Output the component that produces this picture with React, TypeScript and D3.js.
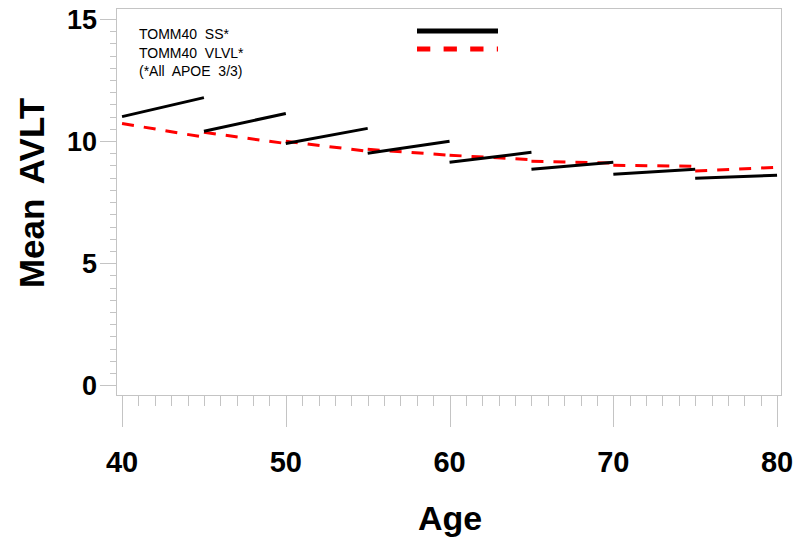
import { useEffect, useRef } from 'react';
import * as d3 from 'd3';

// each curve is drawn as 5-year pieces (start age -> end age)
const segStart = [40, 45, 50, 55, 60, 65, 70, 75];
const segEnd = [45, 50, 55, 60, 65, 70, 75, 80];
const ssStart = [11.0, 10.4, 9.9, 9.5, 9.13, 8.85, 8.64, 8.48];
const ssEnd = [11.78, 11.13, 10.52, 9.99, 9.54, 9.13, 8.85, 8.6];
const vlvlStart = [10.72, 10.36, 9.99, 9.66, 9.42, 9.17, 9.01, 8.77];
const vlvlEnd = [10.16, 9.9, 9.58, 9.42, 9.24, 9.1, 8.97, 8.93];

const xTicks = [40, 50, 60, 70, 80];
const yTicks = [0, 5, 10, 15];
const legendLabels = ['TOMM40  SS*', 'TOMM40  VLVL*', '(*All  APOE  3/3)'];

export default function App() {
  const ref = useRef<SVGSVGElement>(null);

  useEffect(() => {
    const svg = d3.select(ref.current);
    svg.selectAll('*').remove();

    const left = 116, right = 781, top = 8, bottom = 395;
    const x = d3.scaleLinear().domain([39.63, 80.24]).range([left, right]);
    const y = d3.scaleLinear().domain([-0.4, 15.45]).range([bottom, top]);
    const grey = '#c4c4c4';
    const font = '"Liberation Sans", Arial, Helvetica, sans-serif';

    // frame
    svg.append('rect')
      .attr('x', left + 0.5).attr('y', top + 0.5)
      .attr('width', right - left).attr('height', bottom - top)
      .attr('fill', 'none').attr('stroke', grey);

    // y ticks: minor every 0.5, major every 5
    const yMinor = d3.range(0, 15.01, 0.5);
    svg.append('g').selectAll('line').data(yMinor).join('line')
      .attr('x1', d => (d % 5 === 0 ? left - 16 : left - 6))
      .attr('x2', left)
      .attr('y1', d => Math.round(y(d)) + 0.5)
      .attr('y2', d => Math.round(y(d)) + 0.5)
      .attr('stroke', grey);

    svg.append('g').selectAll('text').data(yTicks).join('text')
      .attr('x', 97).attr('y', d => y(d))
      .attr('dy', '0.36em')
      .attr('text-anchor', 'end')
      .attr('font-family', font).attr('font-weight', 'bold')
      .attr('font-size', 27)
      .text(d => d);

    // x ticks: minor every year, major every 10
    const xMinor = d3.range(40, 80.01, 1);
    svg.append('g').selectAll('line').data(xMinor).join('line')
      .attr('x1', d => Math.round(x(d)) + 0.5)
      .attr('x2', d => Math.round(x(d)) + 0.5)
      .attr('y1', bottom)
      .attr('y2', d => (d % 10 === 0 ? bottom + 32 : bottom + 11))
      .attr('stroke', grey);

    svg.append('g').selectAll('text').data(xTicks).join('text')
      .attr('x', d => x(d)).attr('y', 472)
      .attr('text-anchor', 'middle')
      .attr('font-family', font).attr('font-weight', 'bold')
      .attr('font-size', 29)
      .text(d => d);

    // axis titles
    svg.append('text')
      .attr('x', 450).attr('y', 530)
      .attr('text-anchor', 'middle')
      .attr('font-family', font).attr('font-weight', 'bold')
      .attr('font-size', 34)
      .text('Age');

    svg.append('text')
      .attr('transform', 'translate(44,193) rotate(-90)')
      .attr('text-anchor', 'middle')
      .attr('font-family', font).attr('font-weight', 'bold')
      .attr('font-size', 35)
      .attr('word-spacing', 6)
      .text('Mean AVLT');

    // curves
    const pieces = segStart.map((a, i) => ({
      a, b: segEnd[i],
      ss: [ssStart[i], ssEnd[i]],
      vl: [vlvlStart[i], vlvlEnd[i]],
    }));

    svg.append('g').selectAll('line').data(pieces).join('line')
      .attr('x1', d => x(d.a)).attr('x2', d => x(d.b))
      .attr('y1', d => y(d.vl[0])).attr('y2', d => y(d.vl[1]))
      .attr('stroke', '#ff0000').attr('stroke-width', 3)
      .attr('stroke-dasharray', '12,10');

    svg.append('g').selectAll('line').data(pieces).join('line')
      .attr('x1', d => x(d.a)).attr('x2', d => x(d.b))
      .attr('y1', d => y(d.ss[0])).attr('y2', d => y(d.ss[1]))
      .attr('stroke', '#000').attr('stroke-width', 3);

    // legend
    const lg = svg.append('g');
    lg.selectAll('text').data(legendLabels).join('text')
      .attr('x', 139).attr('y', (_, i) => 39 + i * 18.5)
      .attr('font-family', font).attr('font-size', 14)
      .style('white-space', 'pre')
      .text(d => d);
    lg.append('line')
      .attr('x1', 417).attr('x2', 498).attr('y1', 31).attr('y2', 31)
      .attr('stroke', '#000').attr('stroke-width', 5);
    lg.append('line')
      .attr('x1', 417).attr('x2', 498).attr('y1', 49).attr('y2', 49)
      .attr('stroke', '#ff0000').attr('stroke-width', 5)
      .attr('stroke-dasharray', '13.3,13.3');
  }, []);

  return (
    <svg
      ref={ref}
      width={800}
      height={544}
      style={{ position: 'absolute', left: 0, top: 0, background: '#fff' }}
    />
  );
}
